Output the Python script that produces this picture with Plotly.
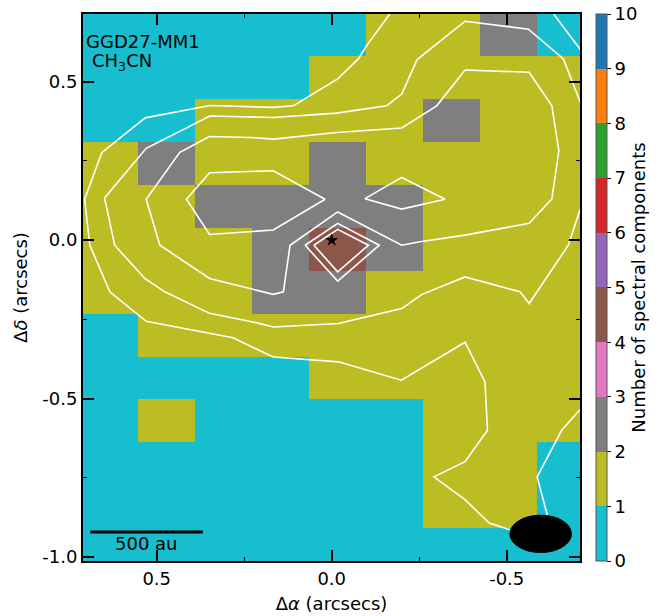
import plotly.graph_objects as go

# Pixel-grid centres, offsets in arcsec from the source position
ra_offsets = [0.634, 0.471, 0.308, 0.145, -0.018, -0.181, -0.344, -0.507, -0.670]
dec_offsets = [0.649, 0.514, 0.378, 0.243, 0.107, -0.028, -0.164,
               -0.300, -0.435, -0.571, -0.706, -0.842, -0.977]

# Number of fitted spectral components per pixel (rows follow dec_offsets)
n_components = [
    [0, 0, 0, 0, 0, 1, 1, 2, 0],
    [0, 0, 0, 0, 1, 1, 1, 1, 1],
    [0, 0, 1, 1, 1, 1, 2, 1, 1],
    [1, 2, 1, 1, 2, 1, 1, 1, 1],
    [1, 1, 2, 2, 2, 2, 1, 1, 1],
    [1, 1, 1, 2, 4, 2, 1, 1, 1],
    [1, 1, 1, 2, 2, 1, 1, 1, 1],
    [0, 1, 1, 1, 1, 1, 1, 1, 1],
    [0, 0, 0, 0, 1, 1, 1, 1, 1],
    [0, 1, 0, 0, 0, 0, 1, 1, 1],
    [0, 0, 0, 0, 0, 0, 1, 1, 0],
    [0, 0, 0, 0, 0, 0, 1, 1, 0],
    [0, 0, 0, 0, 0, 0, 0, 0, 0],
]

# Integrated-intensity contours (x = RA offset, y = Dec offset)
contour_outer = [
    (-0.195, 0.758), (-0.100, 0.614), (-0.076, 0.572), (-0.016, 0.508),
    (0.110, 0.424), (0.167, 0.419), (0.348, 0.425), (0.533, 0.386),
    (0.657, 0.276), (0.706, 0.129), (0.691, -0.016), (0.634, -0.163),
    (0.530, -0.256), (0.348, -0.295), (0.282, -0.308), (0.167, -0.369),
    (-0.019, -0.384), (-0.199, -0.442), (-0.381, -0.322), (-0.438, -0.448),
    (-0.445, -0.600), (-0.381, -0.699), (-0.292, -0.747), (-0.381, -0.819),
    (-0.450, -0.893), (-0.509, -0.914), (-0.595, -0.931), (-0.616, -0.868),
    (-0.587, -0.747), (-0.657, -0.600), (-0.767, -0.463),
]
contour_corner = [(-0.604, 0.758), (-0.767, 0.518)]
contour_2 = [
    (-0.732, 0.171), (-0.705, 0.079), (-0.676, -0.016), (-0.564, -0.200),
    (-0.538, -0.163), (-0.381, -0.116), (-0.258, -0.171), (-0.200, -0.216),
    (-0.019, -0.263), (0.167, -0.274), (0.225, -0.258), (0.349, -0.231),
    (0.477, -0.163), (0.534, -0.121), (0.620, -0.016), (0.649, 0.133),
    (0.530, 0.290), (0.348, 0.392), (0.167, 0.387), (-0.014, 0.401),
    (-0.157, 0.424), (-0.200, 0.461), (-0.244, 0.570), (-0.381, 0.691),
    (-0.562, 0.666), (-0.662, 0.572), (-0.705, 0.451), (-0.738, 0.357),
]
contour_3 = [
    (0.349, 0.327), (0.434, 0.277), (0.530, 0.129), (0.491, -0.016),
    (0.349, -0.121), (0.233, -0.153), (0.167, -0.171), (0.138, -0.163),
    (0.119, -0.016), (-0.017, 0.089), (-0.200, -0.016), (-0.252, -0.005),
    (-0.381, 0.016), (-0.564, 0.053), (-0.629, 0.130), (-0.649, 0.282),
    (-0.629, 0.424), (-0.564, 0.530), (-0.381, 0.537), (-0.300, 0.424),
    (-0.238, 0.382), (-0.200, 0.354), (-0.014, 0.340), (0.167, 0.319),
    (0.233, 0.324), (0.349, 0.327),
]
contour_4a = [
    (0.349, 0.213), (0.167, 0.219), (0.019, 0.129), (0.167, 0.032),
    (0.349, 0.018), (0.415, 0.129), (0.349, 0.213),
]
contour_4b = [
    (-0.095, 0.131), (-0.200, 0.198), (-0.324, 0.129), (-0.200, 0.098),
    (-0.095, 0.131),
]
contour_5 = [
    (0.076, -0.016), (-0.017, 0.053), (-0.136, -0.016), (-0.017, -0.129),
    (0.076, -0.016),
]
contour_6 = [
    (0.051, -0.016), (-0.017, 0.034), (-0.105, -0.016), (-0.017, -0.100),
    (0.051, -0.016),
]
contour_paths = [contour_outer, contour_corner, contour_2, contour_3,
                 contour_4a, contour_4b, contour_5, contour_6]

# Continuum peak position
source_x, source_y = [0.0], [0.0]

# Synthesised beam (centre, full axes) in arcsec
beam_x, beam_y = -0.597, -0.927
beam_width, beam_height = 0.176, 0.118

# 500 au scale bar (arcsec)
scalebar_start, scalebar_len, scalebar_y = 0.690, 0.322, -0.921

# Discrete colours for 0..10 components (reversed tab10)
bin_colors = ["#17becf", "#bcbd22", "#7f7f7f", "#e377c2", "#8c564b",
              "#9467bd", "#d62728", "#2ca02c", "#ff7f0e", "#1f77b4"]
colorscale = []
for i, c in enumerate(bin_colors):
    colorscale += [[i / 10, c], [(i + 1) / 10, c]]

FONT = "DejaVu Sans"
fig = go.Figure()

# counts are drawn at the middle of their colour bin
fig.add_trace(go.Heatmap(
    x=ra_offsets, y=dec_offsets,
    z=[[v + 0.5 for v in row] for row in n_components],
    zmin=0, zmax=10, colorscale=colorscale,
    colorbar=dict(
        thickness=11, len=1, lenmode="fraction", y=0.5, yanchor="middle",
        x=1.0316, xanchor="left", xpad=0, ypad=0,
        outlinewidth=1, outlinecolor="#555555",
        tickvals=list(range(11)), ticks="outside", ticklen=4, tickwidth=1.2,
        tickcolor="black", tickfont=dict(family=FONT, size=18, color="black"),
        title=dict(text="Number of spectral components", side="right",
                   font=dict(family=FONT, size=18, color="black")),
    ),
    hoverinfo="skip",
))

for path in contour_paths:
    fig.add_trace(go.Scatter(
        x=[p[0] for p in path], y=[p[1] for p in path], mode="lines",
        line=dict(color="white", width=1.6), hoverinfo="skip", showlegend=False,
    ))

fig.add_trace(go.Scatter(
    x=source_x, y=source_y, mode="markers",
    marker=dict(symbol="star", size=10, color="black"),
    hoverinfo="skip", showlegend=False,
))

# beam ellipse and scale bar
fig.add_shape(type="circle", xref="x", yref="y",
              x0=beam_x + beam_width / 2, x1=beam_x - beam_width / 2,
              y0=beam_y - beam_height / 2, y1=beam_y + beam_height / 2,
              fillcolor="black", line=dict(color="black", width=1))
fig.add_shape(type="line", xref="x", yref="y",
              x0=scalebar_start, x1=scalebar_start - scalebar_len,
              y0=scalebar_y, y1=scalebar_y,
              line=dict(color="black", width=3))
fig.add_annotation(x=scalebar_start - scalebar_len / 2, y=-0.958, xref="x", yref="y",
                   text="500 au", showarrow=False,
                   font=dict(family=FONT, size=18, color="black"))

fig.add_annotation(x=0.003, y=0.9506, xref="paper", yref="paper",
                   xanchor="left", yanchor="middle", text="GGD27-MM1",
                   showarrow=False, font=dict(family=FONT, size=18, color="black"))
fig.add_annotation(x=0.0135, y=0.912, xref="paper", yref="paper",
                   xanchor="left", yanchor="middle", text="CH<sub>3</sub>CN",
                   showarrow=False, font=dict(family=FONT, size=18, color="black"))

axis_common = dict(
    showgrid=False, zeroline=False, showline=True, linecolor="black", linewidth=2,
    mirror="allticks", ticks="inside", ticklen=11, tickwidth=1.5, tickcolor="black",
    tickfont=dict(family=FONT, size=18, color="black"), automargin=False,
)
fig.update_xaxes(
    range=[0.7106, -0.7094],
    tickvals=[0.5, 0.0, -0.5], ticktext=["0.5", "0.0", "-0.5"],
    minor=dict(tickvals=[0.25, -0.25], ticks="inside", ticklen=4,
               tickwidth=1.2, tickcolor="black"),
    title=dict(text="Δ<i>α</i> (arcsecs)", standoff=10,
               font=dict(family=FONT, size=18, color="black")),
    **axis_common,
)
fig.update_yaxes(
    range=[-1.0126, 0.7138],
    tickvals=[0.5, 0.0, -0.5, -1.0], ticktext=["0.5", "0.0", "-0.5", "-1.0"],
    minor=dict(tickvals=[0.25, -0.25, -0.75], ticks="inside", ticklen=4,
               tickwidth=1.2, tickcolor="black"),
    title=dict(text="Δ<i>δ</i> (arcsecs)", standoff=10,
               font=dict(family=FONT, size=18, color="black")),
    **axis_common,
)

fig.update_layout(
    width=668, height=616,
    margin=dict(l=83, r=88, t=14, b=55.3),
    paper_bgcolor="white", plot_bgcolor="white",
    showlegend=False,
    font=dict(family=FONT, size=18, color="black"),
)

fig.write_html("out.html")
